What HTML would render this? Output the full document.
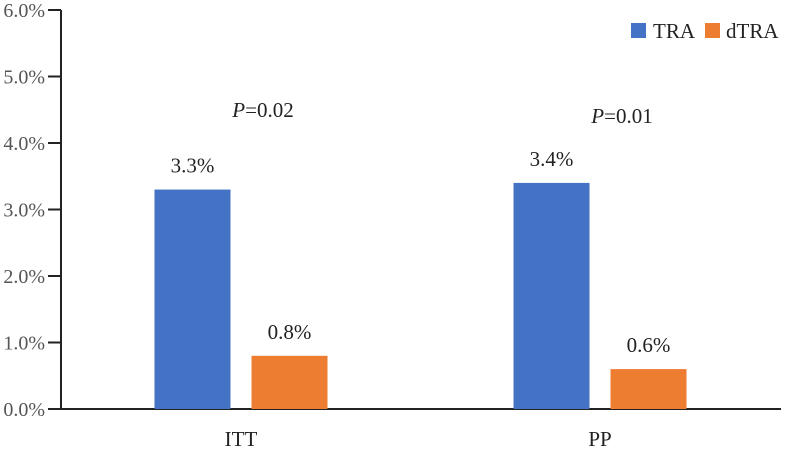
<!DOCTYPE html>
<html><head><meta charset="utf-8"><style>
body{margin:0;background:#fff;}
svg text{font-family:"Liberation Serif","Times New Roman",Times,serif !important;}
</style></head><body>
<svg width="786" height="448" xmlns="http://www.w3.org/2000/svg" font-family="Liberation Serif, Times New Roman, serif">
<g id="axes"></g><g id="bars"></g><g id="labels"></g>
<g>
<rect x="631" y="23" width="15" height="15" fill="#4472C4"/>
<text x="653" y="38" font-size="21" fill="#222">TRA</text>
<rect x="705" y="23" width="15" height="15" fill="#ED7D31"/>
<text x="726" y="38" font-size="21" fill="#222">dTRA</text>
</g>
</svg>
<script>
const categories=["ITT","PP"];
const traValues=[3.3,3.4];
const dtraValues=[0.8,0.6];
const pLabels=["0.02","0.01"];
const yTicks=[0,1,2,3,4,5,6];
const ns="http://www.w3.org/2000/svg";
const y0=409,y6=10,xAxis=61,xEnd=781;
const y=v=>y0-(y0-y6)*v/6;
const cx=i=>241+i*359;
const pY=[117,123];
function mk(t,a,p){const e=document.createElementNS(ns,t);for(const k in a)e.setAttribute(k,a[k]);p.appendChild(e);return e;}
const ax=document.getElementById('axes'),bg=document.getElementById('bars'),lg=document.getElementById('labels');
let l=mk('line',{x1:xAxis,y1:y6,x2:xAxis,y2:y0,stroke:'#222','stroke-width':2},ax);


l=mk('line',{x1:xAxis,y1:y0,x2:xEnd,y2:y0,stroke:'#222','stroke-width':2},ax);


yTicks.forEach(v=>{
 const t=mk('line',{x1:48,y1:y(v),x2:xAxis,y2:y(v),stroke:'#222','stroke-width':2},ax);
 
 
 const tx=mk('text',{x:45,y:y(v)+7,'font-size':20,fill:'#555','text-anchor':'end'},ax);
 tx.textContent=v.toFixed(1)+'%';
 
 
});
const bw=76,gap=21;
categories.forEach((c,i)=>{
 const xa=cx(i)-gap/2-bw, xb=cx(i)+gap/2;
 const r1=mk('rect',{x:xa,y:y(traValues[i]),width:bw,height:y0-y(traValues[i]),fill:'#4472C4'},bg);
 
 
 const r2=mk('rect',{x:xb,y:y(dtraValues[i]),width:bw,height:y0-y(dtraValues[i]),fill:'#ED7D31'},bg);
 
 
 const t1=mk('text',{x:xa+bw/2,y:y(traValues[i])-17,'font-size':21,fill:'#222','text-anchor':'middle'},lg);
 t1.textContent=traValues[i].toFixed(1)+'%';
 
 
 const t2=mk('text',{x:xb+bw/2,y:y(dtraValues[i])-17,'font-size':21,fill:'#222','text-anchor':'middle'},lg);
 t2.textContent=dtraValues[i].toFixed(1)+'%';
 
 
 const pt=mk('text',{x:cx(i)+22,y:pY[i],'font-size':21,fill:'#222','text-anchor':'middle'},lg);
 pt.innerHTML='<tspan font-style="italic">P</tspan>='+pLabels[i];
 
 
 const ct=mk('text',{x:cx(i),y:446,'font-size':21,fill:'#222','text-anchor':'middle'},lg);
 ct.textContent=c;
 
 
});
</script>
</body></html>
